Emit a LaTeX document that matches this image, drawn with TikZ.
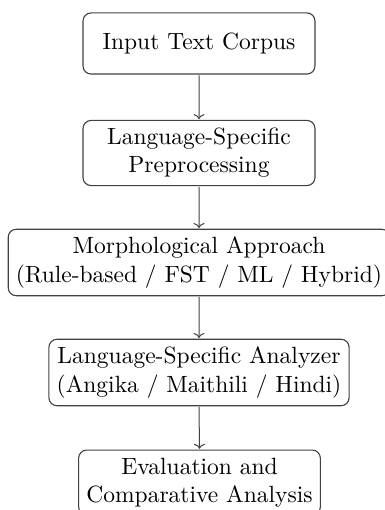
\documentclass[tikz,border=0pt]{standalone}
\usetikzlibrary{arrows.meta}
\begin{document}
\begin{tikzpicture}[x=1pt,y=-1pt,
  box/.style={draw=black!75, line width=1.1pt, rounded corners=8pt, align=center,
    scale=2.35, inner sep=3.3pt, font=\fontsize{10}{12}\selectfont, text=black},
  arr/.style={-{To[length=5pt,width=11pt]}, draw=black!75, line width=1pt}]
\useasboundingbox (0,0) rectangle (384,510);
\node[box, minimum width=98.7pt, minimum height=26pt] (b1) at (199,43.5) {Input Text Corpus};
\node[box, minimum width=98.7pt, minimum height=26pt] (b2) at (199,153) {Language-Specific\\Preprocessing};
\node[box, minimum height=26pt] (b3) at (199,262.5) {Morphological Approach\\(Rule-based / FST / ML / Hybrid)};
\node[box, minimum height=26pt] (b4) at (199,372.5) {Language-Specific Analyzer\\(Angika / Maithili / Hindi)};
\node[box, minimum height=26pt] (b5) at (199.5,482.5) {Evaluation and\\Comparative Analysis};
\draw[arr] (b1) -- (b2);
\draw[arr] (b2) -- (b3);
\draw[arr] (b3) -- (b4);
\draw[arr] (b4.south) -- (b5.north);
\end{tikzpicture}
\end{document}
